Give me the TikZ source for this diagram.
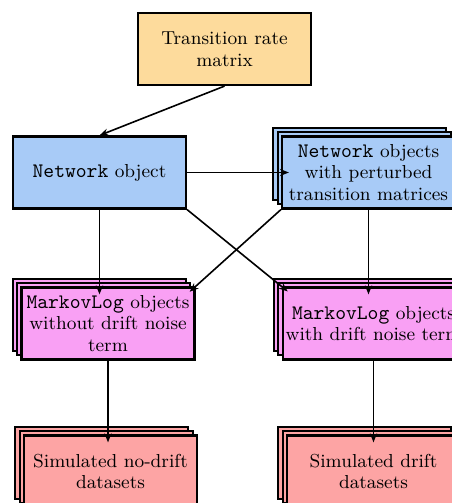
\documentclass[tikz,border=0pt]{standalone}
\usepackage{amsmath}
\usepackage{tikz}
\usetikzlibrary{arrows.meta}
\usetikzlibrary{positioning}
\usetikzlibrary{shadows}

\definecolor{rateorange}{HTML}{FDDB9C}
\definecolor{netblue}{HTML}{A8CBF7}
\definecolor{logpink}{HTML}{F9A0F4}
\definecolor{simred}{HTML}{FDA4A4}
\newcommand{\cls}[1]{{\fontsize{10.3}{10.8}\selectfont\texttt{#1}}}

\begin{document}
\begin{tikzpicture}[x=0.5pt,y=-0.5pt,
                font=\fontsize{9.4}{10.8}\selectfont,
                block/.style={rectangle, draw, line width=1.1pt, align=center,
                    minimum width=86.5pt, minimum height=36pt, inner sep=1.5pt},
                stack/.style={block, double copy shadow={shadow xshift=-2.2pt, shadow yshift=2.2pt}},
                arrow/.style={draw,line width=0.8pt,-{Stealth[length=4.5pt,width=3.5pt]}},
                tostack/.style={arrow, shorten >=-4pt}
            ]
            \useasboundingbox (0,0) rectangle (451,503);
            \node[block, fill=rateorange](rate) at (224.5,49) {Transition rate\\matrix};
            \node[block, fill=netblue](net) at (99.5,172.5) {\cls{Network} object};
            \node[stack, fill=netblue](nets) at (368.5,172.5) {\cls{Network} objects\\with perturbed\\transition matrices};
            \node[stack, fill=logpink](logA) at (108,323.5) {\cls{MarkovLog} objects\\without drift noise\\term};
            \node[stack, fill=logpink](logB) at (373.5,323.5) {\cls{MarkovLog} objects\\with drift noise term};
            \node[stack, fill=simred](simA) at (110.5,471.5) {Simulated no-drift\\datasets};
            \node[stack, fill=simred](simB) at (373.5,471.5) {Simulated drift\\datasets};
            \path[arrow] (rate.south) -- (net.north);
            \path[tostack] (net) -- (nets);
            \path[tostack] (net.south) -- (net.south |- logA.north);
            \path[tostack] (net.south east) -- (logB.north west);
            \path[tostack] (nets.south west) -- (logA.north east);
            \path[tostack] (nets.south) -- (nets.south |- logB.north);
            \path[tostack] (logA.south) -- (logA.south |- simA.north);
            \path[tostack] (logB.south) -- (logB.south |- simB.north);
        \end{tikzpicture}
\end{document}
